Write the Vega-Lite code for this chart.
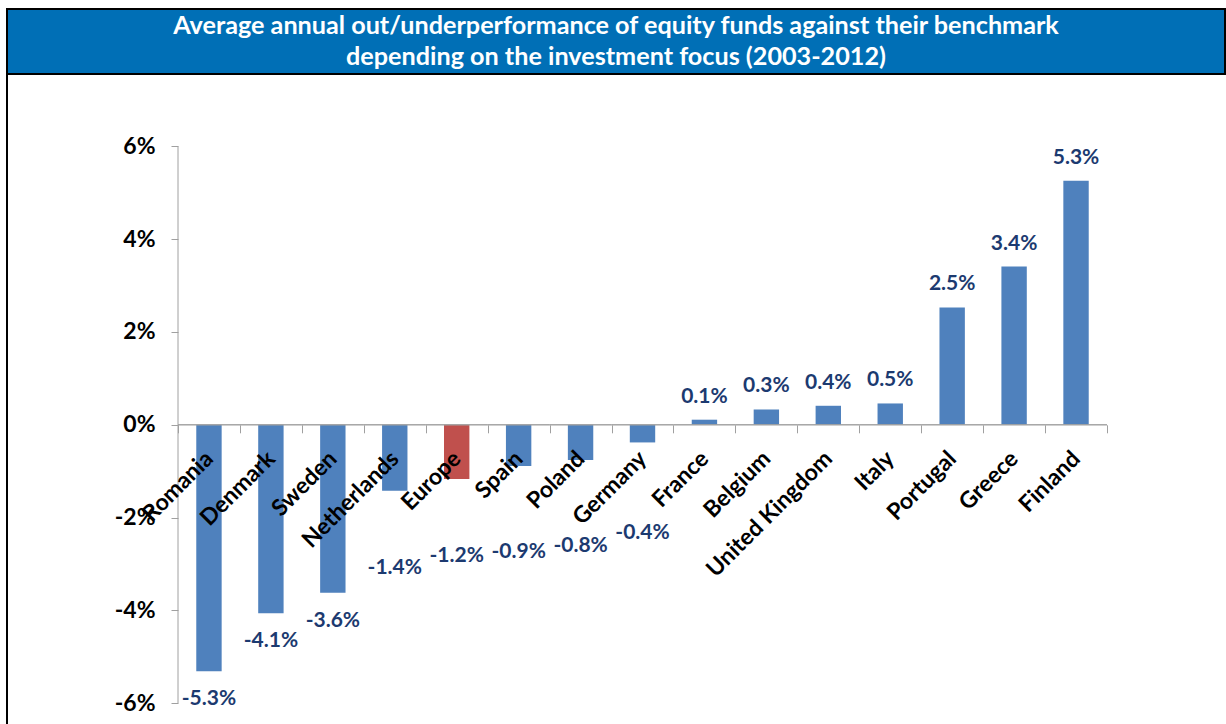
{
  "$schema": "https://vega.github.io/schema/vega-lite/v6.json",
  "padding": {"left": -2, "top": 8, "right": 0, "bottom": 0},
  "spacing": 0,
  "bounds": "flush",
  "background": "white",
  "config": {
    "font": "Lato",
    "view": {"stroke": null},
    "locale": {"number": {"decimal": ".", "thousands": ",", "grouping": [3], "currency": ["$", ""], "minus": "-"}}
  },
  "datasets": {
    "funds": [
      {"cat": "Romania", "v": -0.0531},
      {"cat": "Denmark", "v": -0.0406},
      {"cat": "Sweden", "v": -0.0362},
      {"cat": "Netherlands", "v": -0.0142},
      {"cat": "Europe", "v": -0.0117},
      {"cat": "Spain", "v": -0.0089},
      {"cat": "Poland", "v": -0.0076},
      {"cat": "Germany", "v": -0.0038},
      {"cat": "France", "v": 0.0011},
      {"cat": "Belgium", "v": 0.0033},
      {"cat": "United Kingdom", "v": 0.0041},
      {"cat": "Italy", "v": 0.0046},
      {"cat": "Portugal", "v": 0.0253},
      {"cat": "Greece", "v": 0.0341},
      {"cat": "Finland", "v": 0.0526}
    ]
  },
  "vconcat": [
    {
      "width": 1218,
      "height": 65,
      "view": {"fill": "#006FB6", "stroke": "#000000", "strokeWidth": 2},
      "data": {"values": [{"k": 1}]},
      "mark": {
        "type": "text",
        "text": ["Average annual out/underperformance of equity funds against their benchmark", "depending on the investment focus (2003-2012)"],
        "color": "white",
        "font": "Lato",
        "fontSize": 25.2,
        "fontWeight": "bold",
        "lineHeight": 31,
        "baseline": "middle",
        "align": "center",
        "dy": -15.5
      },
      "encoding": {}
    },
    {
      "width": 1224,
      "height": 652,
      "view": {"fill": "white", "stroke": "#000000", "strokeWidth": 2},
      "data": {"name": "funds"},
      "encoding": {
        "x": {
          "field": "cat", "type": "nominal", "sort": null,
          "scale": {"range": [171, 1100], "paddingInner": 0, "paddingOuter": 0},
          "axis": {
            "title": null, "orient": "bottom", "offset": -301.2, "zindex": 2,
            "domain": false, "grid": false, "ticks": true, "tickBand": "extent",
            "tickSize": 8, "tickColor": "#A0A0A0", "tickWidth": 1,
            "labelAngle": -45, "labelAlign": "right", "labelBaseline": "middle",
            "labelPadding": 22, "labelFont": "Lato", "labelFontSize": 23, "labelFontWeight": "bold",
            "labelColor": "#000000", "labelOverlap": false, "labelLimit": 400
          }
        },
        "y": {
          "field": "v", "type": "quantitative",
          "scale": {"domain": [-0.06491, 0.0756], "nice": false, "zero": false},
          "axis": {
            "title": null, "orient": "left", "offset": -171,
            "values": [-0.06, -0.04, -0.02, 0, 0.02, 0.04, 0.06], "format": ".0%",
            "domain": false, "grid": false, "ticks": true, "tickSize": 7,
            "tickColor": "#A0A0A0", "tickWidth": 1, "labelPadding": 16,
            "labelFont": "Lato", "labelFontSize": 23, "labelFontWeight": "bold", "labelColor": "#000000"
          }
        }
      },
      "layer": [
        {
          "mark": {"type": "bar", "width": {"band": 0.41}},
          "encoding": {
            "color": {"condition": {"test": "datum.cat === 'Europe'", "value": "#C0504D"}, "value": "#4F81BD"}
          }
        },
        {
          "transform": [{"filter": "datum.cat === 'Romania'"}],
          "mark": {"type": "rule", "color": "#A0A0A0", "strokeWidth": 1},
          "encoding": {
            "x": {"field": "cat", "type": "nominal", "sort": null, "bandPosition": 0},
            "y": {"datum": -0.06, "type": "quantitative"},
            "y2": {"datum": 0.06}
          }
        },
        {
          "mark": {"type": "rect", "fillOpacity": 0, "stroke": "#A0A0A0", "strokeWidth": 1},
          "encoding": {
            "y": {"datum": 0, "type": "quantitative"},
            "y2": {"datum": 0}
          }
        },
        {
          "transform": [{"filter": "datum.v > 0"}],
          "mark": {"type": "text", "dy": -23, "baseline": "middle", "font": "Lato", "fontSize": 21, "fontWeight": "bold", "color": "#1C3A70"},
          "encoding": {"text": {"field": "v", "type": "quantitative", "format": ".1%"}}
        },
        {
          "transform": [{"filter": "datum.v <= -0.02"}],
          "mark": {"type": "text", "dy": 28, "baseline": "middle", "font": "Lato", "fontSize": 21, "fontWeight": "bold", "color": "#1C3A70"},
          "encoding": {"text": {"field": "v", "type": "quantitative", "format": ".1%"}}
        },
        {
          "transform": [{"filter": "datum.v > -0.02 && datum.v <= -0.01"}],
          "mark": {"type": "text", "dy": 77, "baseline": "middle", "font": "Lato", "fontSize": 21, "fontWeight": "bold", "color": "#1C3A70"},
          "encoding": {"text": {"field": "v", "type": "quantitative", "format": ".1%"}}
        },
        {
          "transform": [{"filter": "datum.v > -0.01 && datum.v <= -0.005"}],
          "mark": {"type": "text", "dy": 86, "baseline": "middle", "font": "Lato", "fontSize": 21, "fontWeight": "bold", "color": "#1C3A70"},
          "encoding": {"text": {"field": "v", "type": "quantitative", "format": ".1%"}}
        },
        {
          "transform": [{"filter": "datum.v > -0.005 && datum.v < 0"}],
          "mark": {"type": "text", "dy": 91, "baseline": "middle", "font": "Lato", "fontSize": 21, "fontWeight": "bold", "color": "#1C3A70"},
          "encoding": {"text": {"field": "v", "type": "quantitative", "format": ".1%"}}
        }
      ]
    }
  ]
}
